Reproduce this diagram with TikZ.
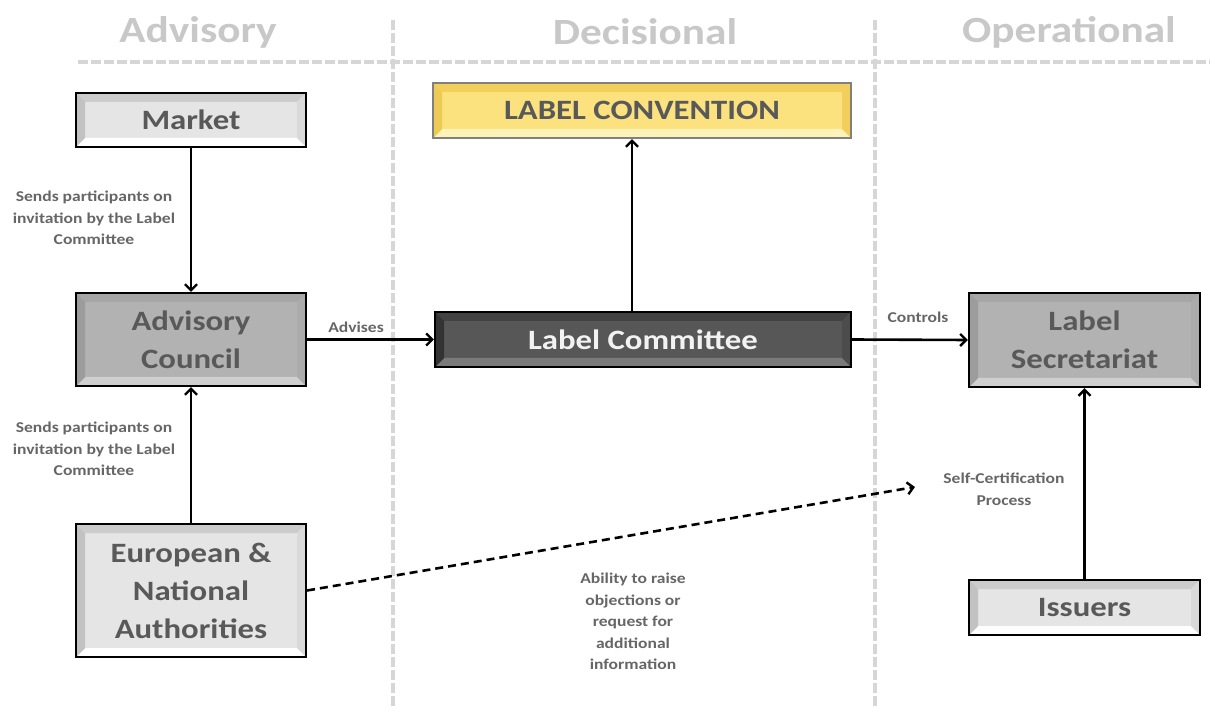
\documentclass[tikz,border=0pt]{standalone}
\usepackage{fontspec}
\setmainfont{Carlito}[FakeStretch=1.17]
\usetikzlibrary{arrows.meta}
\definecolor{txtgray}{HTML}{595959}
\definecolor{lblgray}{HTML}{666666}
\definecolor{hdrgray}{HTML}{C8C8C8}
\definecolor{sepgray}{HTML}{D6D6D6}
\definecolor{yBase}{HTML}{FBE27E}
\definecolor{yTop}{HTML}{F2CF5A}
\definecolor{yBot}{HTML}{FDF2B8}
\definecolor{ySide}{HTML}{EDC955}
\tikzset{
  bevelbox/.style n args={6}{draw=#6, line width=2.2pt, fill=#1, inner sep=0pt, align=center,
    path picture={
      \coordinate (pA) at (path picture bounding box.north west);
      \coordinate (pB) at (path picture bounding box.north east);
      \coordinate (pC) at (path picture bounding box.south east);
      \coordinate (pD) at (path picture bounding box.south west);
      \fill[#2] (pA) -- (pB) -- ([shift={(-9pt,-9pt)}]pB) -- ([shift={(9pt,-9pt)}]pA) -- cycle;
      \fill[#3] (pD) -- (pC) -- ([shift={(-9pt,9pt)}]pC) -- ([shift={(9pt,9pt)}]pD) -- cycle;
      \fill[#4] (pA) -- (pD) -- ([shift={(9pt,9pt)}]pD) -- ([shift={(9pt,-9pt)}]pA) -- cycle;
      \fill[#5] (pB) -- (pC) -- ([shift={(-9pt,9pt)}]pC) -- ([shift={(-9pt,-9pt)}]pB) -- cycle;
    }},
  boxfont/.style={font=\bfseries\fontsize{28}{38}\selectfont},
  lightbox/.style={bevelbox={gray!20}{gray!40}{white}{gray!48}{gray!30}{black}, text=txtgray, boxfont},
  midbox/.style={bevelbox={gray!60}{gray!70}{gray!38}{gray!78}{gray!66}{black}, text=txtgray, boxfont},
  darkbox/.style={bevelbox={black!66}{black!74}{black!52}{black!80}{black!70}{black}, text=white!95!black, boxfont},
  yellowbox/.style={bevelbox={yBase}{yTop}{yBot}{ySide}{yTop}{gray}, text=txtgray, boxfont},
  hdr/.style={text=hdrgray, font=\bfseries\fontsize{37}{44}\selectfont},
  lbl/.style={text=lblgray, font=\bfseries\fontsize{15}{21.5}\selectfont, align=center},
  sep/.style={draw=sepgray, line width=3.5pt, dash pattern=on 10pt off 3pt},
  conn/.style={draw=black, line width=2.6pt, -{Straight Barb[length=6pt,width=12pt,line width=2.4pt]}},
  dconn/.style={conn, dash pattern=on 8pt off 5pt},
}
\begin{document}
\begin{tikzpicture}[x=1pt,y=-1pt]
\useasboundingbox[fill=white] (0,0) rectangle (1210,708);
% separators
\draw[sep] (78,62) -- (1210,62);
\draw[sep] (393,20) -- (393,708);
\draw[sep] (875,20) -- (875,708);
% headers
\node[hdr] (hA) at (198,32) {Advisory};
\node[hdr] (hD) at (645,32) {Decisional};
\node[hdr] (hO) at (1069,32) {Operational};
% boxes
\node[lightbox, minimum width=230pt, minimum height=54pt] (market) at (191,120) {Market};
\node[midbox, minimum width=230pt, minimum height=93pt] (council) at (191,339.5) {Advisory\\Council};
\node[lightbox, minimum width=230pt, minimum height=133pt] (auth) at (191,590.5) {European \&\\National\\Authorities};
\node[yellowbox, minimum width=418pt, minimum height=55pt] (conv) at (642,110.5) {LABEL CONVENTION};
\node[darkbox, minimum width=416pt, minimum height=55pt] (comm) at (643,339.5) {Label Committee};
\node[midbox, minimum width=231pt, minimum height=94pt] (secr) at (1084.5,340) {Label\\Secretariat};
\node[lightbox, minimum width=231pt, minimum height=55pt] (iss) at (1084.5,607.5) {Issuers};
% connectors
\draw[conn] (market.south) -- (council.north);
\draw[conn] (auth.north) -- (council.south);
\draw[conn] (council.east) -- (comm.west);
\draw[conn] (comm.north -| conv.south) ++(-10pt,0) coordinate (cu) -- (cu |- conv.south);
\draw[conn] (comm.east) -- (secr.west);
\draw[conn] (iss.north) -- (secr.south);
\coordinate (dend) at (915,487);
\draw[dconn] (auth.east) -- (dend);
% labels
\node[lbl] (l1) at (94,218) {Sends participants on\\invitation by the Label\\Committee};
\node[lbl] (l2) at (94,449) {Sends participants on\\invitation by the Label\\Committee};
\node[lbl] (l3) at (356,327) {Advises};
\node[lbl] (l4) at (918,317) {Controls};
\node[lbl] (l5) at (1004,489.5) {Self-Certification\\Process};
\node[lbl] (l6) at (633,621.5) {Ability to raise\\objections or\\request for\\additional\\information};
\end{tikzpicture}
\end{document}
